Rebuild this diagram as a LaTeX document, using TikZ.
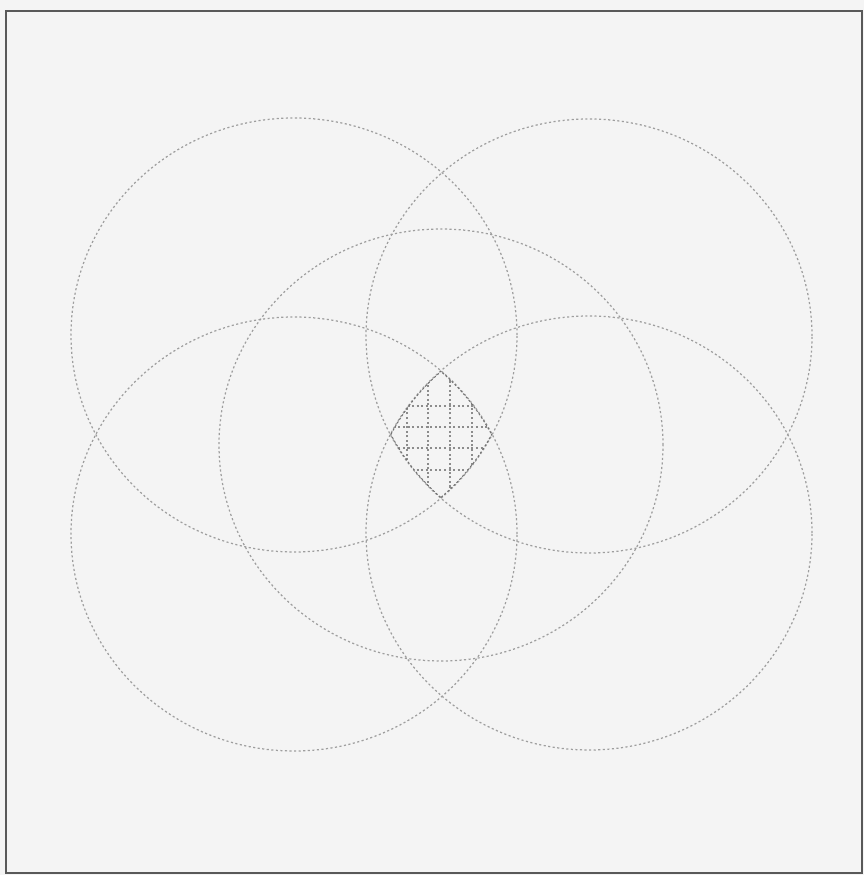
\documentclass[tikz,border=0pt]{standalone}
\definecolor{paper}{RGB}{244,244,244}
\tikzset{
  ring/.style={draw=black!38, dash pattern=on 1.2pt off 1.4pt, line width=0.7pt},
  hatch/.style={draw=black!45, dash pattern=on 1.2pt off 1.4pt, line width=0.6pt},
  rim/.style={draw=black!55, dash pattern=on 1.2pt off 1.2pt, line width=1.2pt},
  frame/.style={draw=black!65, line width=1.4pt},
}
\begin{document}
\begin{tikzpicture}[x=0.02cm, y=0.02cm]
  \fill[paper] (0,0) rectangle (864,875);
  \useasboundingbox (0,0) rectangle (864,875);
  \draw[frame] (6,2) rectangle (862,864);
  % centres of the four corner circles and the middle one
  \coordinate (tl) at (294,540);
  \coordinate (tr) at (589,539);
  \coordinate (bl) at (294,341);
  \coordinate (br) at (589,342);
  \coordinate (mid) at (441,430);
  \foreach \c in {tl,tr,bl,br}
    \draw[ring] (\c) ellipse [x radius=223, y radius=217];
  \draw[ring] (mid) ellipse [x radius=222, y radius=216];
  % common part of the four corner circles
  \begin{scope}
    \clip (tl) ellipse [x radius=223, y radius=217];
    \clip (tr) ellipse [x radius=223, y radius=217];
    \clip (bl) ellipse [x radius=223, y radius=217];
    \clip (br) ellipse [x radius=223, y radius=217];
    \foreach \x in {407,428,450,472}
      \draw[hatch] (\x,360) -- (\x,520);
    \foreach \y in {405,427,448,469}
      \draw[hatch] (380,\y) -- (500,\y);
    \foreach \c in {tl,tr,bl,br}
      \draw[rim] (\c) ellipse [x radius=223, y radius=217];
  \end{scope}
\end{tikzpicture}
\end{document}
